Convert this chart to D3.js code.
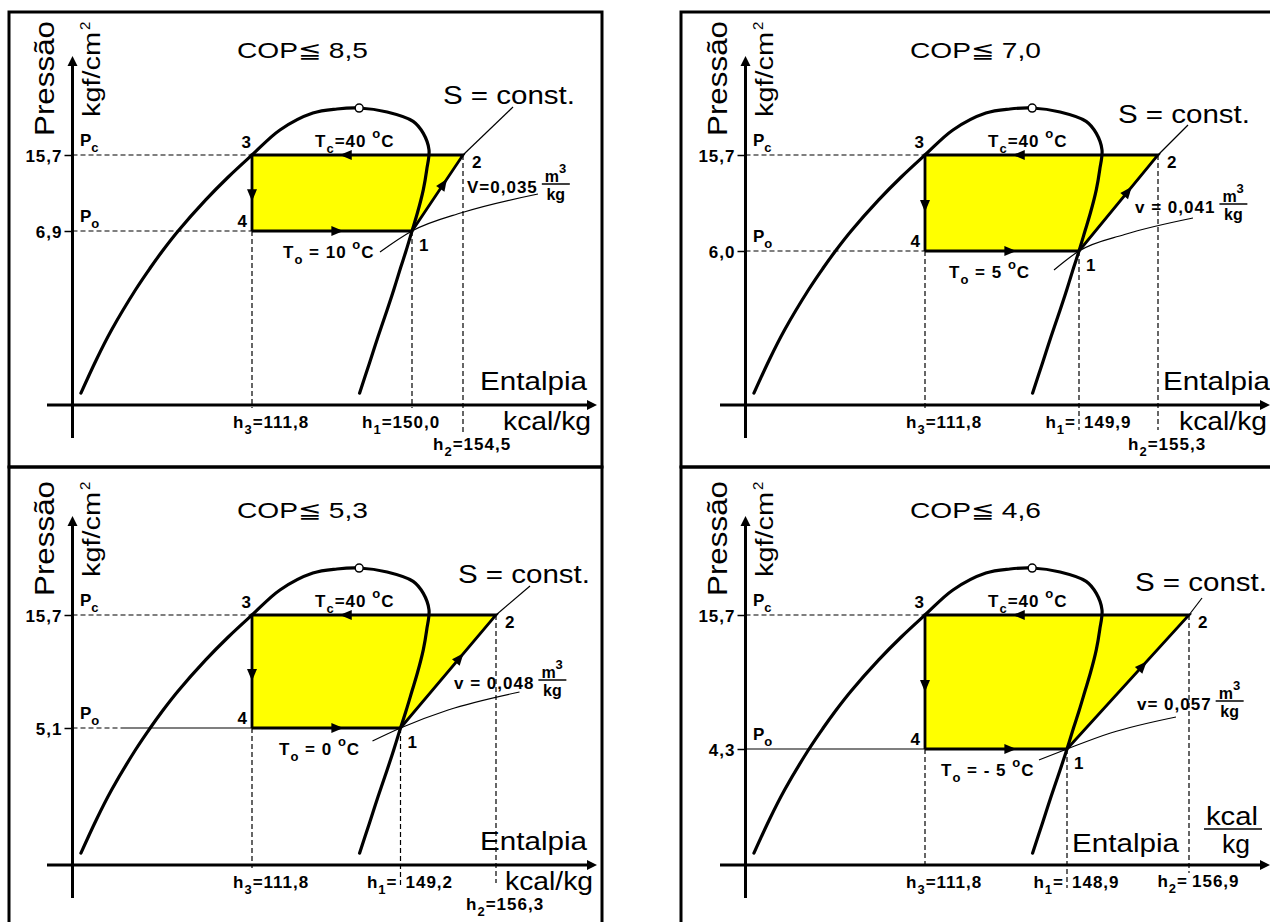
<!DOCTYPE html>
<html><head><meta charset="utf-8">
<script src="https://cdn.jsdelivr.net/npm/d3@7"></script>
<style>html,body{margin:0;padding:0;background:#fff}svg{display:block}</style>
</head><body>
<svg id="chart" width="1270" height="922"></svg>
<script>
// ---------------- data ----------------
const cop = [8.5, 7.0, 5.3, 4.6];
const tCond = 40;                         // °C
const tEvap = [10, 5, 0, -5];             // °C
const pCond = 15.7;                       // kgf/cm²
const pEvap = [6.9, 6.0, 5.1, 4.3];       // kgf/cm²
const h3 = 111.8;                         // kcal/kg
const h1 = [150.0, 149.9, 149.2, 148.9];  // kcal/kg
const h2 = [154.5, 155.3, 156.3, 156.9];  // kcal/kg
const vSuction = [0.035, 0.041, 0.048, 0.057]; // m³/kg
// schematic saturation dome: liquid line -> critical point -> vapour line
const domeH = [67.1, 71.1, 75.1, 81.5, 85.2, 88.4, 92.5, 99.7, 105.6, 111.8, 119.1, 127.7, 134.0, 139.8,
               147.1, 150.1, 151.0, 151.5, 151.3, 151.0, 150.5, 150.0, 149.9, 149.2, 148.9, 147.1, 144.7, 142.5, 139.9];
const domeP = [0.44, 1.67, 2.78, 4.3, 5.1, 6.0, 6.9, 10.5, 13.15, 15.7, 18.6, 20.56, 21.03, 21.14,
               20.68, 19.6, 18.2, 16.3, 14.0, 11.7, 9.1, 6.9, 6.0, 5.1, 4.3, 3.52, 2.52, 1.56, 0.44];
const criticalH = 139.8, criticalP = 21.14;
const vPrefix = ["V=", "v = ", "v = ", "v= "];

// ---------------- layout (pixels, panel-local) ----------------
const W = 1270, H = 922;
const colOff = [0, 673], rowOff = [0, 460];
const frameX = [9, 681], frameY = [12, 467], frameW = 593, frameH = [455, 470];
const AX = 72.5, axTop = 56, axBottom = 438, axLeft = 47, axRight = 597;
// schematic (not to scale) axis knots
const xKnots = [252, 394, 400.5, 406, 412, 463, 485, 496, 516];
const yKnots = [405, 289, 268, 251, 231, 155];
const lay = {
  sLabel: [[443, 104], [445, 123], [458, 123], [462, 131]],
  sLeader: [[50, -48], [30, -30], [34, -29], [13, -17]],
  vLabel: [[467, 193], [462, 213], [454, 229], [464, 250]],
  vRight: [[126, -37], [114, -33], [119, -36], [109, -32]],
  vLeft: [[-32, 21], [-25, 19], [-28, 13], [-28, 11]],
  toX: [283, 276, 279, 268],
  entalpia: [[480, 390], [490, 390], [480, 390], [399, 392]],
  kcal: [[503, 430], [506, 430], [505, 430], null],
  h1Split: [false, true, true, true],
  h2Split: [false, false, false, true],
  h2Base: [450, 450, 450, 427],
  h1DashEnd: [408, 430, 428, 428],
  h2DashEnd: [432, 430, 423, 413],
  poSolidFrom: [null, null, 122, AX]
};

const FONT = "'Liberation Sans', Arial, Helvetica, sans-serif";
const fmt1 = v => d3.format(".1f")(v).replace(".", ",");
const fmt3 = v => d3.format(".3f")(v).replace(".", ",");
const fmtT = t => t < 0 ? "- " + (-t) : String(t);

const hKnots = [h3, ...[...h1].sort(d3.ascending), ...[...h2].sort(d3.ascending)];
const pKnots = [0, ...[...pEvap].sort(d3.ascending), pCond];
const x = d3.scaleLinear().domain(hKnots).range(xKnots);
const y = d3.scaleLinear().domain(pKnots).range(yKnots);

const svg = d3.select("#chart");
svg.append("rect").attr("width", W).attr("height", H).attr("fill", "#fff");

function txt(g, px, py, s, o = {}) {
  const t = g.append("text").attr("x", px).attr("y", py).text(s)
    .attr("font-family", FONT).attr("font-size", o.size || 17)
    .attr("font-weight", o.bold ? "bold" : "normal")
    .attr("text-anchor", o.anchor || "start").attr("fill", "#000");
  if (o.len) t.attr("textLength", o.len).attr("lengthAdjust", "spacingAndGlyphs");
  if (o.ls != null) t.attr("letter-spacing", o.ls);
  if (o.transform) t.attr("transform", o.transform);
  return t;
}
function rich(g, px, py, parts, o = {}) {
  const t = g.append("text").attr("x", px).attr("y", py)
    .attr("font-family", FONT).attr("font-size", o.size || 17)
    .attr("font-weight", "bold").attr("letter-spacing", o.ls ?? 1)
    .attr("text-anchor", o.anchor || "start").attr("fill", "#000");
  let shift = 0;
  parts.forEach(p => {
    const target = p.sub ? 6 : p.sup ? -9 : 0;
    const ts = t.append("tspan").attr("dy", target - shift).text(p.t);
    if (p.sub || p.sup) ts.attr("font-size", o.small || 13);
    shift = target;
  });
  return t;
}
function arrow(g, px, py, ang, len = 12, hw = 5) {
  g.append("path")
    .attr("d", d3.line()([[len / 2, 0], [-len / 2, -hw], [-len / 2, hw]]) + "Z")
    .attr("transform", `translate(${px},${py}) rotate(${ang * 180 / Math.PI})`)
    .attr("fill", "#000");
}
const ang = (a, b) => Math.atan2(b[1] - a[1], b[0] - a[0]);
const lerp = (a, b, t) => [a[0] + (b[0] - a[0]) * t, a[1] + (b[1] - a[1]) * t];

// frames
d3.range(4).forEach(i => {
  const c = i % 2, r = Math.floor(i / 2);
  svg.append("rect").attr("x", frameX[c]).attr("y", frameY[r])
    .attr("width", frameW).attr("height", frameH[r])
    .attr("fill", "none").attr("stroke", "#000").attr("stroke-width", 3);
});

const domeLine = d3.line().x(d => x(d[0])).y(d => y(d[1])).curve(d3.curveCatmullRom.alpha(0.5));
const dome = domeH.map((h, k) => [h, domeP[k]]);

d3.range(4).forEach(i => {
  const g = svg.append("g").attr("transform", `translate(${colOff[i % 2]},${rowOff[Math.floor(i / 2)]})`);
  const p3 = [x(h3), y(pCond)], p2 = [x(h2[i]), y(pCond)];
  const p1 = [x(h1[i]), y(pEvap[i])], p4 = [x(h3), y(pEvap[i])];
  const yAx = y(0);

  // cycle area
  g.append("path").attr("d", d3.line()([p3, p2, p1, p4]) + "Z").attr("fill", "#ffff00");

  // dashed guide lines
  const dash = (a, b) => g.append("line").attr("x1", a[0]).attr("y1", a[1]).attr("x2", b[0]).attr("y2", b[1])
    .attr("stroke", "#000").attr("stroke-width", 1.2).attr("stroke-dasharray", "5,3");
  const thin = (a, b) => g.append("line").attr("x1", a[0]).attr("y1", a[1]).attr("x2", b[0]).attr("y2", b[1])
    .attr("stroke", "#000").attr("stroke-width", 1.2);
  dash([AX, p3[1]], p3);
  const sf = lay.poSolidFrom[i];
  if (sf == null) dash([AX, p4[1]], p4);
  else { if (sf > AX) dash([AX, p4[1]], [sf, p4[1]]); thin([sf, p4[1]], p4); }
  dash(p4, [p4[0], yAx + 3]);
  dash(p1, [p1[0], lay.h1DashEnd[i]]);
  dash(p2, [p2[0], lay.h2DashEnd[i]]);

  // isochore v = const (thin)
  const vr = lay.vRight[i], vl = lay.vLeft[i];
  const vPts = [[p1[0] + vl[0], p1[1] + vl[1]], p1,
                [p1[0] + vr[0] * 0.4, p1[1] + vr[1] * 0.5], [p1[0] + vr[0], p1[1] + vr[1]]];
  g.append("path").attr("d", d3.line().curve(d3.curveMonotoneX)(vPts))
    .attr("fill", "none").attr("stroke", "#000").attr("stroke-width", 1.2);
  // S = const leader
  const sl = lay.sLeader[i];
  thin(p2, [p2[0] + sl[0], p2[1] + sl[1]]);

  // saturation dome
  g.append("path").attr("d", domeLine(dome)).attr("fill", "none")
    .attr("stroke", "#000").attr("stroke-width", 3.2).attr("stroke-linejoin", "round").attr("stroke-linecap", "round");

  // cycle edges
  g.append("path").attr("d", d3.line()([p4, p3, p2, p1, p4]))
    .attr("fill", "none").attr("stroke", "#000").attr("stroke-width", 2.8).attr("stroke-linejoin", "miter");

  // arrows
  arrow(g, x(136.3), p3[1], Math.PI);
  arrow(g, x(134.1), p1[1], 0);
  const av = lerp(p3, p4, 0.53); arrow(g, av[0], av[1], Math.PI / 2);
  const ai = lerp(p1, p2, 0.62); arrow(g, ai[0], ai[1], ang(p1, p2));

  // critical point
  g.append("circle").attr("cx", x(criticalH)).attr("cy", y(criticalP)).attr("r", 4)
    .attr("fill", "#fff").attr("stroke", "#000").attr("stroke-width", 1.5);

  // axes
  g.append("line").attr("x1", AX).attr("y1", axTop + 8).attr("x2", AX).attr("y2", axBottom)
    .attr("stroke", "#000").attr("stroke-width", 3);
  arrow(g, AX, axTop + 5, -Math.PI / 2, 10, 5);
  g.append("line").attr("x1", axLeft).attr("y1", yAx).attr("x2", axRight - 8).attr("y2", yAx)
    .attr("stroke", "#000").attr("stroke-width", 3);
  arrow(g, axRight - 5, yAx, 0, 10, 5);
  const ya = g.append("g").attr("transform", `translate(${AX},0)`)
    .call(d3.axisLeft(y).tickValues([pEvap[i], pCond]).tickFormat(fmt1).tickSize(8).tickPadding(2));
  ya.select(".domain").remove();
  ya.selectAll("line").attr("stroke-width", 1.5);
  ya.selectAll("text").attr("font-family", FONT).attr("font-size", 17)
    .attr("font-weight", "bold").attr("letter-spacing", 1).attr("dy", "0.36em");

  // titles / axis names
  txt(g, 237, 58, `COP\u2266 ${fmt1(cop[i])}`, {size: 22, len: 131});
  txt(g, 0, 0, "Pressão", {size: 28, len: 115, transform: "translate(54,136) rotate(-90)"});
  txt(g, 0, 0, "kgf/cm", {size: 23, len: 85, transform: "translate(100,117) rotate(-90)"});
  txt(g, 0, 0, "2", {size: 15, transform: "translate(100,117) rotate(-90) translate(87,-10)"});
  const [ex, ey] = lay.entalpia[i];
  txt(g, ex, ey, "Entalpia", {size: 25, len: 107});
  if (lay.kcal[i]) {
    txt(g, lay.kcal[i][0], lay.kcal[i][1], "kcal/kg", {size: 25, len: 88});
  } else {
    txt(g, 559, 365, "kcal", {size: 25, len: 52, anchor: "middle"});
    g.append("line").attr("x1", 531).attr("x2", 589).attr("y1", 369).attr("y2", 369)
      .attr("stroke", "#000").attr("stroke-width", 1.5);
    txt(g, 563, 393, "kg", {size: 25, len: 28, anchor: "middle"});
  }
  const [sx, sy] = lay.sLabel[i];
  txt(g, sx, sy, "S = const.", {size: 26, len: 132});

  // pressure labels
  rich(g, 80, p3[1] - 9, [{t: "P"}, {t: "c", sub: true}], {ls: 0});
  rich(g, 80, p4[1] - 9, [{t: "P"}, {t: "o", sub: true}], {ls: 0});

  // state points
  txt(g, p3[0] - 1, p3[1] - 7, "3", {bold: true, anchor: "end"});
  txt(g, p4[0] - 5, p4[1] - 4, "4", {bold: true, anchor: "end"});
  txt(g, p2[0] + 9, p2[1] + 13, "2", {bold: true});
  txt(g, p1[0] + 7, p1[1] + 20, "1", {bold: true});

  // temperatures
  rich(g, 315, p3[1] - 8, [{t: "T"}, {t: "c", sub: true}, {t: "=" + tCond + " "}, {t: "o", sup: true}, {t: "C"}]);
  rich(g, lay.toX[i], p4[1] + 27, [{t: "T"}, {t: "o", sub: true}, {t: " = " + fmtT(tEvap[i]) + " "}, {t: "o", sup: true}, {t: "C"}]);

  // specific volume label
  const [vx, vy] = lay.vLabel[i];
  const vt = rich(g, vx, vy, [{t: vPrefix[i] + fmt3(vSuction[i])}], {ls: 1});
  const fx = vx + vt.node().getComputedTextLength() + 4;
  g.append("line").attr("x1", fx).attr("x2", fx + 28).attr("y1", vy - 9).attr("y2", vy - 9)
    .attr("stroke", "#000").attr("stroke-width", 1.5);
  rich(g, fx + 3, vy - 11, [{t: "m"}, {t: "3", sup: true}], {size: 16, ls: 0});
  rich(g, fx + 14, vy + 7, [{t: "kg"}], {size: 16, ls: 0, anchor: "middle"});

  // enthalpy labels
  rich(g, p4[0] - 19, yAx + 23, [{t: "h"}, {t: "3", sub: true}, {t: "=" + fmt1(h3)}]);
  if (lay.h1Split[i]) {
    rich(g, p1[0] - 3, yAx + 23, [{t: "h"}, {t: "1", sub: true}, {t: "="}], {anchor: "end"});
    rich(g, p1[0] + 5, yAx + 23, [{t: fmt1(h1[i])}]);
  } else {
    rich(g, p1[0] - 50, yAx + 23, [{t: "h"}, {t: "1", sub: true}, {t: "=" + fmt1(h1[i])}]);
  }
  if (lay.h2Split[i]) {
    rich(g, p2[0] - 1, lay.h2Base[i], [{t: "h"}, {t: "2", sub: true}, {t: "="}], {anchor: "end"});
    rich(g, p2[0] + 3, lay.h2Base[i], [{t: fmt1(h2[i])}]);
  } else {
    rich(g, p2[0] - 30, lay.h2Base[i], [{t: "h"}, {t: "2", sub: true}, {t: "=" + fmt1(h2[i])}]);
  }
});
</script>
</body></html>
